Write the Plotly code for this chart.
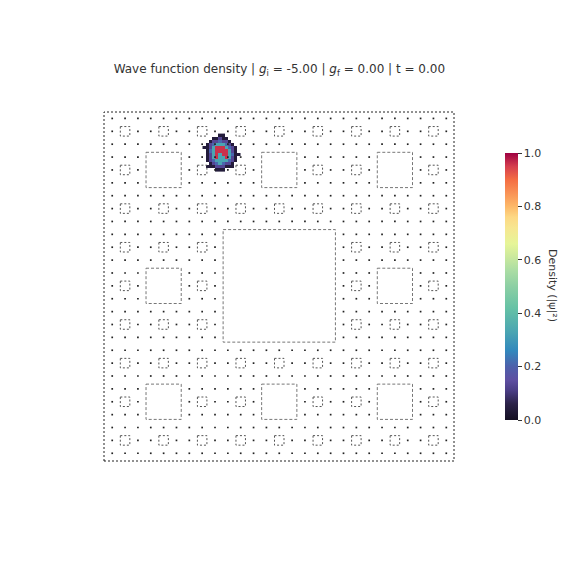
import numpy as np
import plotly.graph_objects as go

# ---------------- data ----------------
N_SITES = 27
small_hole_centers = [1, 4, 7, 10, 13, 16, 19, 22, 25]
medium_hole_centers = [4, 13, 22]
large_hole_centers = [13]
hole_pad = 0.37

# density blob (sub-site grid), None = no density
D, P, B, T, R = 0.04, 0.13, 0.21, 0.33, 0.96
n = None
blob_z = [
    [n, n, n, n, n, D, D, n, n, n, n, n],
    [n, n, n, D, D, P, D, D, n, n, n, n],
    [n, n, D, P, P, B, P, P, D, n, n, n],
    [n, D, P, B, T, T, T, B, P, D, n, n],
    [D, D, P, T, R, R, R, T, B, P, D, n],
    [n, D, B, T, R, R, R, R, T, P, D, n],
    [n, D, P, T, R, T, R, R, T, B, D, D],
    [n, D, P, T, R, T, T, R, T, P, D, n],
    [n, D, P, B, T, T, T, T, B, P, D, n],
    [n, n, D, P, B, T, B, P, P, D, n, n],
    [n, D, D, D, P, P, P, D, D, D, n, n],
    [n, n, n, n, D, D, D, n, n, n, n, n],
]
blob_x0, blob_y0, blob_step = 7.15, 1.3, 0.245

cbar_ticks = [0.0, 0.2, 0.4, 0.6, 0.8, 1.0]
title_text = ("Wave function density | <i>g</i><sub>i</sub> = -5.00 | "
              "<i>g</i><sub>f</sub> = 0.00 | t = 0.00")
cbar_title = "Density (|ψ|²)"

colorscale = [
    [0.0, "#140f22"], [0.06, "#2b2248"], [0.11, "#4a3d85"], [0.15, "#5e4fa2"],
    [0.2, "#4d60ab"], [0.26, "#3288bd"], [0.33, "#4aa5b2"], [0.42, "#66c2a5"],
    [0.5, "#8ccfa4"], [0.56, "#abdda4"], [0.62, "#d0eb9c"], [0.66, "#e6f598"],
    [0.72, "#f7e690"], [0.76, "#fdd884"], [0.8, "#fdb868"], [0.85, "#f99256"],
    [0.9, "#f46d43"], [0.95, "#d53e4f"], [1.0, "#9e0142"],
]

# ---------------- geometry ----------------
holes = []  # (cx, cy, half)
for cx in large_hole_centers:
    for cy in large_hole_centers:
        holes.append((cx, cy, 4))
for cx in medium_hole_centers:
    for cy in medium_hole_centers:
        if any(abs(cx - hx) <= h and abs(cy - hy) <= h for hx, hy, h in holes):
            continue
        holes.append((cx, cy, 1))
big = list(holes)
for cx in small_hole_centers:
    for cy in small_hole_centers:
        if any(abs(cx - hx) <= h and abs(cy - hy) <= h for hx, hy, h in big):
            continue
        holes.append((cx, cy, 0))


def in_hole(i, j):
    return any(abs(i - hx) <= h and abs(j - hy) <= h for hx, hy, h in holes)


sx, sy = [], []
for i in range(N_SITES):
    for j in range(N_SITES):
        if not in_hole(i, j):
            sx.append(i)
            sy.append(j)


def outline(hlist):
    xs, ys = [], []
    for cx, cy, h in hlist:
        a = h + hole_pad
        xs += [cx - a, cx + a, cx + a, cx - a, cx - a, None]
        ys += [cy - a, cy - a, cy + a, cy + a, cy - a, None]
    return xs, ys


small_x, small_y = outline([hh for hh in holes if hh[2] == 0])
big_x, big_y = outline([hh for hh in holes if hh[2] > 0])

fig = go.Figure()
fig.add_trace(go.Scatter(x=sx, y=sy, mode="markers",
                         marker=dict(symbol="square", size=1.7, color="#222",
                                     line=dict(width=0)),
                         hoverinfo="skip", showlegend=False))
fig.add_trace(go.Scatter(x=small_x, y=small_y, mode="lines",
                         line=dict(color="#555", width=1, dash="2px,2px"),
                         hoverinfo="skip", showlegend=False))
fig.add_trace(go.Scatter(x=big_x, y=big_y, mode="lines",
                         line=dict(color="#777", width=1, dash="3px,2px"),
                         hoverinfo="skip", showlegend=False))

bx = [blob_x0 + blob_step * c for c in range(len(blob_z[0]))]
by = [blob_y0 + blob_step * r for r in range(len(blob_z))]
fig.add_trace(go.Heatmap(
    x=bx, y=by, z=blob_z, zmin=0, zmax=1, colorscale=colorscale,
    hoverinfo="skip",
    colorbar=dict(
        x=(505 - 104) / 350, xanchor="left", xpad=0,
        y=(461 - 286.5) / 349, yanchor="middle", ypad=0,
        len=267 / 349, lenmode="fraction", thickness=13, outlinewidth=0,
        tickvals=cbar_ticks, ticktext=[f"{t:.1f}" for t in cbar_ticks],
        ticks="outside", ticklen=4, tickcolor="#333",
        tickfont=dict(family="DejaVu Sans", size=11, color="#333"),
    ),
))

fig.add_annotation(text=cbar_title, xref="paper", yref="paper",
                   x=(553 - 104) / 350, y=(461 - 285) / 349, textangle=90,
                   xanchor="center", yanchor="middle",
                   showarrow=False,
                   font=dict(family="DejaVu Sans", size=11, color="#333"))

fig.update_layout(
    width=576, height=576,
    margin=dict(l=104, r=122, t=112, b=115),
    paper_bgcolor="white", plot_bgcolor="white",
    title=dict(text=title_text, x=0.485, xanchor="center", y=1 - 69 / 576,
               yanchor="middle",
               font=dict(family="DejaVu Sans", size=12, color="#333")),
    xaxis=dict(range=[-0.64, 26.6], visible=False, showgrid=False),
    yaxis=dict(range=[26.6, -0.5], visible=False, showgrid=False),
    shapes=[dict(type="rect", xref="paper", yref="paper", x0=0, y0=0, x1=1, y1=1,
                 line=dict(color="#222", width=1, dash="2px,2px"))],
)

fig.write_html("out.html")
